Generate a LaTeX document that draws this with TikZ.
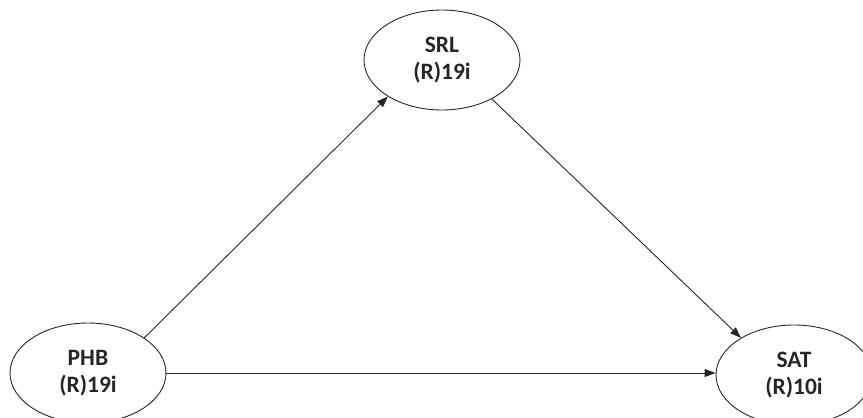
\documentclass[tikz,border=0pt]{standalone}
\usepackage{fontspec}
\setmainfont{Carlito}
\usetikzlibrary{shapes.geometric,arrows.meta}
\begin{document}
\begin{tikzpicture}[x=1pt,y=-1pt,
  latent/.style={ellipse,draw=black!85,line width=0.9pt,minimum width=156pt,minimum height=100pt,inner sep=0pt,
    align=center,font=\fontsize{23.5}{27}\selectfont\bfseries,text=black!85},
  path/.style={draw=black!85,line width=0.9pt,-{Triangle[length=11pt,width=8pt]}}]
\useasboundingbox (0,0) rectangle (863,418);
\node[latent] (SRL) at (442,60) {SRL\\(R)19i};
\node[latent] (PHB) at (88,373) {PHB\\(R)19i};
\node[latent] (SAT) at (794,375) {SAT\\(R)10i};
\draw[path] (PHB.32) -- (SRL.214);
\draw[path] (SRL.-38) -- (SAT.145);
\draw[path] (PHB.east) -- (PHB.east -| SAT.west);
\end{tikzpicture}
\end{document}
